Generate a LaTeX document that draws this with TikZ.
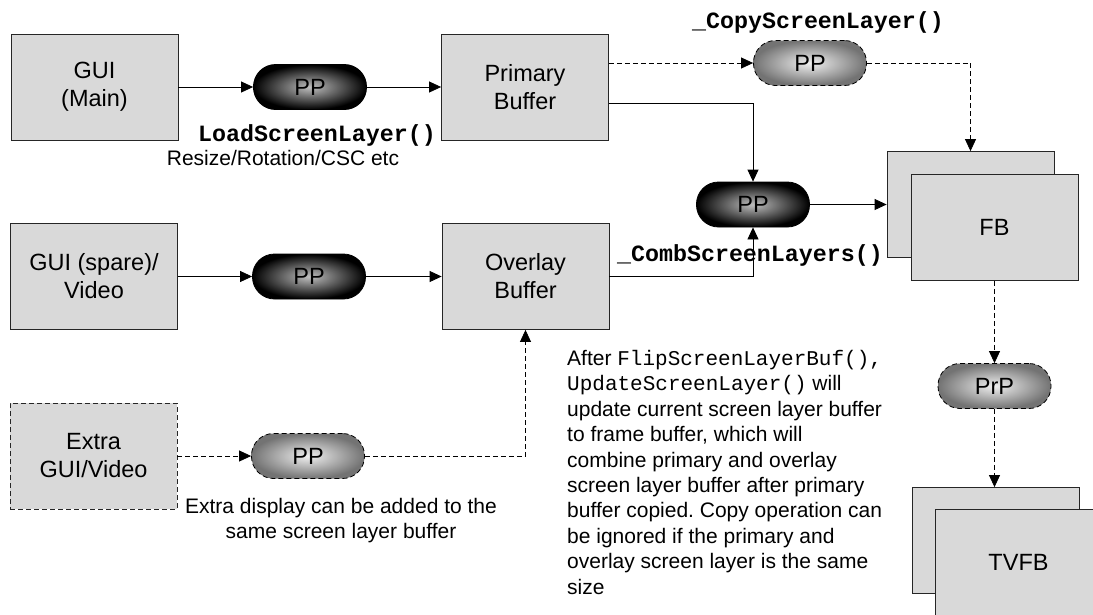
\documentclass[tikz,border=0pt]{standalone}
\usepackage{fontspec}
\setmainfont{Liberation Sans}
\newfontfamily\cour{Liberation Mono}
\usetikzlibrary{arrows.meta}
\definecolor{boxgray}{HTML}{D9D9D9}
\frenchspacing
\newcommand\bxfont{\fontsize{23.5}{28}\selectfont}
\newcommand\prfont{\fontsize{21}{25.4}\selectfont}
\newcommand\cdfont{\fontsize{23.3}{28}\selectfont\cour\bfseries}
\begin{document}
\begin{tikzpicture}[x=1pt,y=-1pt,
  every node/.style={inner sep=0pt},
  dsh/.style={dash pattern=on 5pt off 3pt},
  box/.style={draw=black!85,line width=0.8pt,fill=boxgray,minimum width=167pt,minimum height=106pt,align=center,font=\bxfont},
  dbox/.style={box,dsh},
  pill/.style={draw=black,line width=0.8pt,rounded corners=22pt,minimum width=113pt,minimum height=45pt,font=\bxfont},
  darkpill/.style={pill,inner color=black!25,outer color=black},
  lightpill/.style={pill,dsh,inner color=black!6,outer color=black!55},
  conn/.style={line width=0.8pt,-{Triangle[length=12pt,width=11pt]}},
  dconn/.style={conn,dsh},
  code/.style={font=\cdfont},
  txt/.style={font=\prfont}
]
\useasboundingbox (0,0) rectangle (1093,614);
\fill[white] (0,0) rectangle (1093,614);
\clip (0,0) rectangle (1093,614);

% boxes
\node[box] (gui) at (94.5,87) {GUI\\(Main)};
\node[box] (prim) at (525,87) {Primary\\Buffer};
\node[box] (spare) at (94,276.5) {GUI (spare)/\\Video};
\node[box] (ovl) at (525.5,276.5) {Overlay\\Buffer};
\node[dbox] (extra) at (93.5,456) {Extra\\GUI/Video};
\node[box] (fbback) at (970.5,204.5) {};
\node[box] (fbfront) at (994.5,227.5) {FB};
\node[box] (tvback) at (995.5,540.5) {};
\node[box] (tvfront) at (1018.5,562.5) {TVFB};

% process pills
\node[darkpill] (pp1) at (310,87) {PP};
\node[lightpill] (pp2) at (810,63) {PP};
\node[darkpill] (pp3) at (753,204.5) {PP};
\node[darkpill] (ppm) at (309,276.5) {PP};
\node[lightpill] (pp4) at (308,456) {PP};
\node[lightpill] (prp) at (994.5,386) {PrP};

% labels
\node[code] (lload) at (317,135) {LoadScreenLayer()};
\node[txt] (lres) at (283,158) {Resize/Rotation/CSC etc};
\node[code] (lcopy) at (818,22) {\_CopyScreenLayer()};
\node[code] (lcomb) at (750,255) {\_CombScreenLayers()};
\node[txt,align=center] (lextra) at (341,520.5) {Extra display can be added to the\\same screen layer buffer};
\node[txt,align=left,anchor=north west] (note) at (567,350) {After {\cour FlipScreenLayerBuf(),}\\{\cour UpdateScreenLayer()} will\\update current screen layer buffer\\to frame buffer, which will\\combine primary and overlay\\screen layer buffer after primary\\buffer copied. Copy operation can\\be ignored if the primary and\\overlay screen layer is the same\\size};

% connectors
\draw[conn] (gui.east) -- (pp1.west);
\draw[conn] (pp1.east) -- (prim.west);
\draw[dconn] (prim.east |- pp2) -- (pp2.west);
\draw[dconn] (pp2.east) -| (fbback.north);
\draw[conn] ([yshift=-16pt]prim.east) -| (pp3.north);
\draw[conn] (ovl.east) -| (pp3.south);
\draw[conn] (pp3.east) -- (pp3.east -| fbback.west);
\draw[conn] (spare.east) -- (ppm.west);
\draw[conn] (ppm.east) -- (ovl.west);
\draw[dconn] (extra.east) -- (pp4.west);
\draw[dconn] (pp4.east) -| (ovl.south);
\draw[dconn] (fbfront.south) -- (prp.north);
\draw[dconn] (prp.south) -- (prp.south |- tvback.north);
\end{tikzpicture}
\end{document}
